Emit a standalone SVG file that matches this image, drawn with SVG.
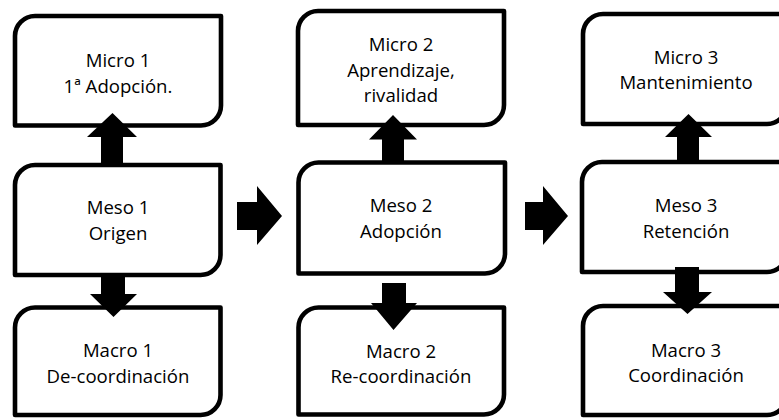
<svg xmlns="http://www.w3.org/2000/svg" width="779" height="420" viewBox="0 0 779 420">
<style>
.box{fill:#fff;stroke:#000;stroke-width:4.6;stroke-linejoin:round}
.lbl{font-family:"Open Sans","Noto Sans","Liberation Sans",sans-serif;font-size:18.6px;fill:#000;text-anchor:middle}
.arr{fill:#000;stroke:none}
</style>
<rect width="779" height="420" fill="#fff"/>
<g id="micro1">
<path class="box" d="M15,36 A20,20 0 0 1 35,16 H221 V105.5 A20,20 0 0 1 201,125.5 H15 Z"/>
<text class="lbl" x="118" y="67">Micro 1</text>
<text class="lbl" x="118" y="93">1ª Adopción.</text>
</g>
<g id="meso1">
<path class="box" d="M15,185 A20,20 0 0 1 35,165 H220.5 V255 A20,20 0 0 1 200.5,275 H15 Z"/>
<text class="lbl" x="118" y="214">Meso 1</text>
<text class="lbl" x="118" y="240">Origen</text>
</g>
<g id="macro1">
<path class="box" d="M15,327.5 A20,20 0 0 1 35,307.5 H220.5 V395 A20,20 0 0 1 200.5,415 H15 Z"/>
<text class="lbl" x="118" y="357">Macro 1</text>
<text class="lbl" x="118" y="383">De-coordinación</text>
</g>
<g id="micro2">
<path class="box" d="M298,31 A20,20 0 0 1 318,11 H504 V105 A20,20 0 0 1 484,125 H298 Z"/>
<text class="lbl" x="401" y="51">Micro 2</text>
<text class="lbl" x="401" y="77">Aprendizaje,</text>
<text class="lbl" x="401" y="102">rivalidad</text>
</g>
<g id="meso2">
<path class="box" d="M298.5,182.5 A20,20 0 0 1 318.5,162.5 H505 V253.5 A20,20 0 0 1 485,273.5 H298.5 Z"/>
<text class="lbl" x="401" y="212">Meso 2</text>
<text class="lbl" x="401" y="238">Adopción</text>
</g>
<g id="macro2">
<path class="box" d="M298.5,327.5 A20,20 0 0 1 318.5,307.5 H504 V394.5 A20,20 0 0 1 484,414.5 H298.5 Z"/>
<text class="lbl" x="401" y="358">Macro 2</text>
<text class="lbl" x="401" y="383">Re-coordinación</text>
</g>
<g id="micro3">
<path class="box" d="M583,34 A20,20 0 0 1 603,14 H787 V104 A20,20 0 0 1 767,124 H583 Z"/>
<text class="lbl" x="686" y="64">Micro 3</text>
<text class="lbl" x="686" y="89">Mantenimiento</text>
</g>
<g id="meso3">
<path class="box" d="M582,182 A20,20 0 0 1 602,162 H787 V252 A20,20 0 0 1 767,272 H582 Z"/>
<text class="lbl" x="686" y="212">Meso 3</text>
<text class="lbl" x="686" y="238">Retención</text>
</g>
<g id="macro3">
<path class="box" d="M583,326 A20,20 0 0 1 603,306 H787 V395 A20,20 0 0 1 767,415 H583 Z"/>
<text class="lbl" x="686" y="357">Macro 3</text>
<text class="lbl" x="686" y="382">Coordinación</text>
</g>
<g id="connectors">
<polygon class="arr" points="101,165 101,137 87,137 112.5,113 137,137 123,137 123,165"/>
<polygon class="arr" points="101,275 101,294 90,294 113.5,317 137,294 125,294 125,275"/>
<polygon class="arr" points="237,202 257,202 257,186 282,216 257,245 257,230 237,230"/>
<polygon class="arr" points="382,163 382,139.5 369,139.5 393,115 417,139.5 404,139.5 404,163"/>
<polygon class="arr" points="382,283 382,303 371,303 393.5,330 417,303 406,303 406,283"/>
<polygon class="arr" points="525,202 543,202 543,186 568,216 543,245 543,230 525,230"/>
<polygon class="arr" points="677,162 677,137 665,137 688.5,114 712,137 699,137 699,162"/>
<polygon class="arr" points="675,267 675,292 663,292 687.5,314 712,292 699,292 699,267"/>
</g>
</svg>
